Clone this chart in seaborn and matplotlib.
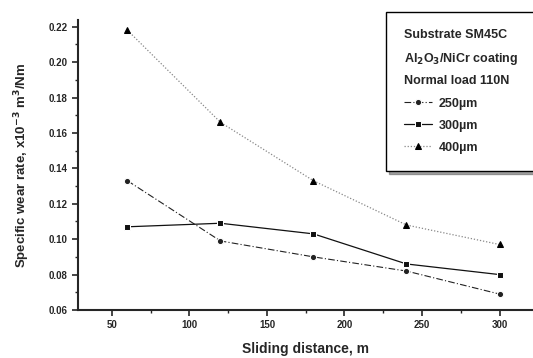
import matplotlib
matplotlib.use("Agg")
import matplotlib.pyplot as plt
import seaborn as sns
import pandas as pd
from matplotlib.ticker import MultipleLocator

# datos
distancia = [60, 120, 180, 240, 300]
tasa_250 = [0.133, 0.099, 0.090, 0.082, 0.069]
tasa_300 = [0.107, 0.109, 0.103, 0.086, 0.080]
tasa_400 = [0.218, 0.166, 0.133, 0.108, 0.097]
series = ["250\u00b5m", "300\u00b5m", "400\u00b5m"]

df = pd.DataFrame({
    "Sliding distance, m": distancia * 3,
    "rate": tasa_250 + tasa_300 + tasa_400,
    "serie": [series[0]] * 5 + [series[1]] * 5 + [series[2]] * 5,
})

sns.set_style("ticks")
plt.rcParams["font.family"] = ["Liberation Sans", "DejaVu Sans"]
plt.rcParams["font.weight"] = "bold"

fig = plt.figure(figsize=(5.33, 3.58), dpi=100)
ax = fig.add_axes([78 / 533, 48 / 358, 1 - 78 / 533, 290 / 358])

estilos = {
    series[0]: dict(ls=(0, (6, 2, 1, 2)), marker="o", color="#222222", lw=0.8, ms=4.5),
    series[1]: dict(ls="-", marker="s", color="#111111", lw=0.9, ms=5),
    series[2]: dict(ls=(0, (1, 1.5)), marker="^", color="#888888", lw=0.9, ms=5,
                    mfc="black", mec="black"),
}

for s in series:
    d = df[df["serie"] == s]
    sns.lineplot(data=d, x="Sliding distance, m", y="rate", ax=ax, label=s,
                 **estilos[s])

ax.set_xlim(28.1, 321.6)
ax.set_ylim(0.06, 0.2238)
ax.xaxis.set_major_locator(MultipleLocator(50))
ax.xaxis.set_minor_locator(MultipleLocator(25))
ax.yaxis.set_major_locator(MultipleLocator(0.02))
ax.yaxis.set_minor_locator(MultipleLocator(0.01))
ax.yaxis.set_major_formatter(plt.FuncFormatter(lambda v, p: f"{v:.2f}"))
ax.tick_params(axis="both", which="major", direction="out", length=4, width=1.2,
               labelsize=7)
ax.tick_params(axis="both", which="minor", direction="out", length=2.5, width=1)
for lab in ax.get_xticklabels() + ax.get_yticklabels():
    lab.set_fontweight("bold")

sns.despine(ax=ax, top=True, right=True)
ax.spines["left"].set_linewidth(1.5)
ax.spines["bottom"].set_linewidth(1.5)

ax.set_xlabel("Sliding distance, m", fontsize=10, fontweight="bold", labelpad=8)
ax.set_ylabel("Specific wear rate, x10$^{-3}$ m$^{3}$/Nm", fontsize=9.5,
              fontweight="bold", labelpad=12)

# leyenda con el texto de condiciones como titulo
leg = ax.legend(title="Substrate SM45C\nAl$_2$O$_3$/NiCr coating\nNormal load 110N",
                loc="upper left",
                bbox_to_anchor=(386 / 533, 1 - 172 / 358, 160 / 533, 160 / 358),
                bbox_transform=fig.transFigure, mode="expand", frameon=True,
                fancybox=False, shadow=True, fontsize=9, title_fontsize=9,
                handlelength=2.3, handletextpad=0.5, labelspacing=0.8,
                borderpad=1.4, borderaxespad=0)
leg._legend_box.align = "left"
leg.get_title().set_fontweight("bold")
leg.get_title().set_linespacing(1.9)
leg.get_frame().set_edgecolor("black")
leg.get_frame().set_linewidth(1.0)
for t in leg.get_texts():
    t.set_fontweight("bold")

fig.savefig("out.png", dpi=100)
